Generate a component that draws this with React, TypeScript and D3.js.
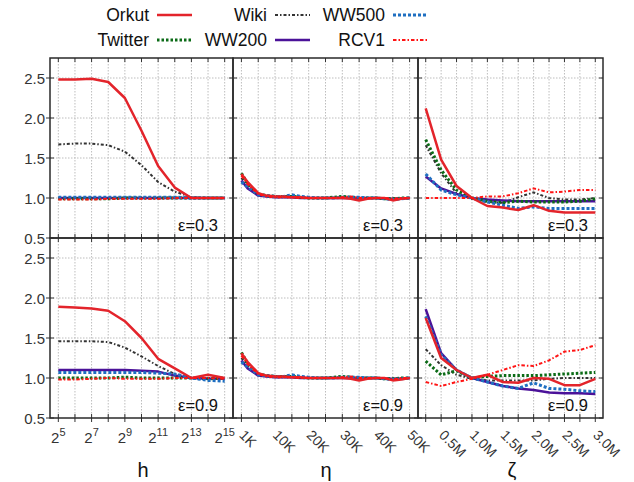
import React from "react";
import * as d3 from "d3";

// series names, drawn in this order (last on top)
const seriesNames = ["Wiki", "WW200", "Twitter", "WW500", "Orkut", "RCV1"];

// x values of each column
const hValues = [32, 64, 128, 256, 512, 1024, 2048, 4096, 8192, 16384, 32768];
const etaValues = [1000, 2500, 5000, 7500, 10000, 12500, 15000, 17500, 20000, 22500, 25000,
  27500, 30000, 32500, 35000, 37500, 40000, 42500, 45000, 47500, 50000];
const zetaValues = [250000, 500000, 750000, 1000000, 1250000, 1500000, 1750000, 2000000,
  2250000, 2500000, 2750000, 3000000];

// tick labels
const hTicks = [32, 64, 128, 256, 512, 1024, 2048, 4096, 8192, 16384, 32768];
const hLabelExps = [5, 7, 9, 11, 13, 15];
const etaTicks = [1000, 5000, 10000, 15000, 20000, 25000, 30000, 35000, 40000, 45000, 50000];
const etaLabels = ["1K", "10K", "20K", "30K", "40K", "50K"];
const zetaTicks = [250000, 500000, 750000, 1000000, 1250000, 1500000, 1750000, 2000000,
  2250000, 2500000, 2750000, 3000000];
const zetaLabels = ["0.5M", "1.0M", "1.5M", "2.0M", "2.5M", "3.0M"];
const yTicks = [0.5, 1.0, 1.5, 2.0, 2.5];

// h, eps = 0.3
const hOrkut03 = [2.48, 2.48, 2.49, 2.45, 2.25, 1.84, 1.40, 1.13, 1.00, 1.00, 1.00];
const hTwitter03 = [0.99, 0.99, 0.99, 0.99, 1.00, 1.00, 1.00, 1.00, 1.00, 1.00, 1.00];
const hWiki03 = [1.67, 1.68, 1.68, 1.66, 1.58, 1.41, 1.20, 1.08, 1.01, 1.00, 1.00];
const hWW200_03 = [1.00, 1.00, 1.00, 1.00, 1.00, 1.00, 1.00, 1.00, 1.00, 1.00, 1.00];
const hWW500_03 = [1.01, 1.01, 1.01, 1.01, 1.01, 1.01, 1.01, 1.01, 1.00, 1.00, 1.00];
const hRCV1_03 = [0.98, 0.98, 0.98, 0.99, 0.99, 0.99, 0.99, 1.00, 1.00, 1.00, 1.00];

// h, eps = 0.9
const hOrkut09 = [1.89, 1.88, 1.87, 1.84, 1.71, 1.50, 1.24, 1.12, 1.00, 1.04, 1.00];
const hTwitter09 = [1.00, 1.00, 1.00, 1.00, 1.01, 1.00, 1.00, 1.00, 1.00, 0.99, 1.00];
const hWiki09 = [1.46, 1.46, 1.46, 1.45, 1.38, 1.27, 1.15, 1.05, 1.00, 1.00, 1.00];
const hWW200_09 = [1.10, 1.10, 1.10, 1.10, 1.10, 1.09, 1.08, 1.03, 1.00, 0.99, 0.99];
const hWW500_09 = [1.07, 1.07, 1.07, 1.07, 1.07, 1.07, 1.06, 1.05, 1.00, 0.97, 0.96];
const hRCV1_09 = [0.98, 0.98, 0.99, 1.00, 0.99, 0.99, 0.99, 1.00, 1.00, 1.00, 0.99];

// eta, eps = 0.3
const etaOrkut03 = [1.30, 1.20, 1.06, 1.03, 1.02, 1.02, 1.01, 1.01, 1.00, 1.00, 1.00, 1.00, 1.00, 0.99, 0.97, 0.99, 1.00, 1.00, 0.97, 0.99, 1.00];
const etaTwitter03 = [1.31, 1.18, 1.05, 1.03, 1.02, 1.02, 1.02, 1.01, 1.00, 1.00, 1.00, 1.01, 1.02, 1.01, 1.00, 1.00, 1.00, 0.99, 0.99, 1.00, 1.00];
const etaWiki03 = [1.25, 1.15, 1.04, 1.02, 1.01, 1.01, 1.01, 1.00, 1.00, 1.00, 1.00, 1.00, 1.00, 1.00, 0.99, 1.00, 1.00, 1.00, 0.99, 1.00, 1.00];
const etaWW200_03 = [1.22, 1.12, 1.03, 1.02, 1.01, 1.01, 1.01, 1.00, 1.00, 1.00, 1.00, 1.00, 1.00, 1.00, 1.00, 1.00, 1.00, 0.99, 0.99, 0.99, 1.00];
const etaWW500_03 = [1.20, 1.14, 1.04, 1.03, 1.02, 1.02, 1.04, 1.02, 1.01, 1.00, 1.00, 1.00, 1.01, 1.01, 1.01, 1.00, 1.00, 0.99, 0.98, 0.99, 1.00];
const etaRCV1_03 = [1.28, 1.17, 1.05, 1.02, 1.01, 1.01, 1.01, 1.00, 1.00, 1.00, 1.00, 1.00, 1.01, 1.02, 1.00, 1.00, 1.00, 1.00, 0.99, 1.00, 1.00];

// eta, eps = 0.9
const etaOrkut09 = [1.31, 1.20, 1.06, 1.03, 1.02, 1.02, 1.01, 1.01, 1.00, 1.00, 1.00, 1.00, 1.00, 0.99, 0.97, 0.99, 1.00, 1.00, 0.97, 0.98, 1.00];
const etaTwitter09 = [1.32, 1.18, 1.05, 1.03, 1.02, 1.02, 1.02, 1.01, 1.00, 1.00, 1.00, 1.01, 1.02, 1.01, 1.00, 1.00, 1.00, 0.99, 0.99, 1.00, 1.00];
const etaWiki09 = [1.25, 1.15, 1.04, 1.02, 1.01, 1.01, 1.01, 1.00, 1.00, 1.00, 1.00, 1.00, 1.00, 1.00, 0.99, 1.00, 1.00, 1.00, 0.99, 1.00, 1.00];
const etaWW200_09 = [1.22, 1.12, 1.03, 1.02, 1.01, 1.01, 1.01, 1.00, 1.00, 1.00, 1.00, 1.00, 1.00, 1.00, 1.00, 1.00, 1.00, 0.99, 0.99, 0.99, 1.00];
const etaWW500_09 = [1.20, 1.14, 1.04, 1.03, 1.02, 1.02, 1.04, 1.02, 1.01, 1.00, 1.00, 1.00, 1.01, 1.01, 1.01, 1.00, 1.00, 0.99, 0.98, 0.99, 1.00];
const etaRCV1_09 = [1.28, 1.17, 1.05, 1.02, 1.01, 1.01, 1.01, 1.00, 1.00, 1.00, 1.00, 1.00, 1.01, 1.02, 1.00, 1.00, 1.00, 1.00, 0.98, 1.00, 1.00];

// zeta, eps = 0.3
const zetaOrkut03 = [2.12, 1.48, 1.15, 1.00, 0.90, 0.88, 0.85, 0.91, 0.84, 0.82, 0.82, 0.82];
const zetaTwitter03 = [1.73, 1.35, 1.10, 1.00, 0.96, 0.94, 0.96, 0.95, 0.95, 0.95, 0.96, 0.99];
const zetaWiki03 = [1.66, 1.31, 1.06, 0.99, 0.95, 0.94, 1.01, 1.07, 1.00, 0.98, 0.98, 1.00];
const zetaWW200_03 = [1.27, 1.12, 1.05, 1.00, 0.98, 0.97, 0.96, 0.96, 0.96, 0.96, 0.96, 0.96];
const zetaWW500_03 = [1.30, 1.10, 1.04, 1.00, 0.95, 0.91, 0.87, 0.89, 0.87, 0.87, 0.87, 0.87];
const zetaRCV1_03 = [1.00, 1.00, 1.00, 1.00, 1.02, 1.02, 1.06, 1.12, 1.07, 1.08, 1.10, 1.10];

// zeta, eps = 0.9
const zetaOrkut09 = [1.75, 1.25, 1.10, 1.00, 1.04, 0.95, 0.94, 1.00, 0.99, 0.91, 0.91, 0.99];
const zetaTwitter09 = [1.21, 1.04, 1.09, 1.00, 1.02, 1.03, 1.03, 1.03, 1.04, 1.05, 1.06, 1.07];
const zetaWiki09 = [1.36, 1.16, 1.04, 0.99, 0.97, 0.97, 0.97, 0.97, 0.99, 1.00, 1.00, 1.00];
const zetaWW200_09 = [1.86, 1.31, 1.10, 1.00, 0.95, 0.90, 0.87, 0.85, 0.82, 0.81, 0.81, 0.80];
const zetaWW500_09 = [1.77, 1.29, 1.10, 1.00, 0.95, 0.90, 0.87, 0.94, 0.87, 0.86, 0.84, 0.83];
const zetaRCV1_09 = [0.95, 0.90, 0.95, 0.99, 1.04, 1.10, 1.16, 1.15, 1.22, 1.33, 1.35, 1.41];

const styles = {
  Orkut: { color: "#e3242b", width: 2.5, dash: null },
  Twitter: { color: "#0b6b16", width: 3, dash: "2.5,2" },
  Wiki: { color: "#333333", width: 2, dash: "3,2,1.5,2" },
  WW200: { color: "#4b1299", width: 2.5, dash: null },
  WW500: { color: "#1f6fc1", width: 3, dash: "3,2" },
  RCV1: { color: "#ff1414", width: 2, dash: "3.5,2,1.5,2" },
};

const legendRows = [
  ["Orkut", "Wiki", "WW500"],
  ["Twitter", "WW200", "RCV1"],
];

const font = "'Liberation Sans', Arial, sans-serif";
const colEdges = [50, 233, 418, 603];
const rowEdges = [58, 238, 418];

function panelData(eps) {
  const top = eps === "0.3";
  return [
    {
      x: hValues,
      s: top
        ? { Orkut: hOrkut03, Twitter: hTwitter03, Wiki: hWiki03, WW200: hWW200_03, WW500: hWW500_03, RCV1: hRCV1_03 }
        : { Orkut: hOrkut09, Twitter: hTwitter09, Wiki: hWiki09, WW200: hWW200_09, WW500: hWW500_09, RCV1: hRCV1_09 },
    },
    {
      x: etaValues,
      s: top
        ? { Orkut: etaOrkut03, Twitter: etaTwitter03, Wiki: etaWiki03, WW200: etaWW200_03, WW500: etaWW500_03, RCV1: etaRCV1_03 }
        : { Orkut: etaOrkut09, Twitter: etaTwitter09, Wiki: etaWiki09, WW200: etaWW200_09, WW500: etaWW500_09, RCV1: etaRCV1_09 },
    },
    {
      x: zetaValues,
      s: top
        ? { Orkut: zetaOrkut03, Twitter: zetaTwitter03, Wiki: zetaWiki03, WW200: zetaWW200_03, WW500: zetaWW500_03, RCV1: zetaRCV1_03 }
        : { Orkut: zetaOrkut09, Twitter: zetaTwitter09, Wiki: zetaWiki09, WW200: zetaWW200_09, WW500: zetaWW500_09, RCV1: zetaRCV1_09 },
    },
  ];
}

// x scales, one per column, with half a tick step of padding at each side
function makeX(col) {
  const x0 = colEdges[col], x1 = colEdges[col + 1];
  if (col === 0) {
    const pad = (x1 - x0) / 11 / 2;
    return { scale: d3.scaleLog().base(2).domain([32, 32768]).range([x0 + pad, x1 - pad]), ticks: hTicks };
  }
  if (col === 1) {
    const step = (x1 - x0) / 11;
    const r = etaTicks.map((_, i) => x0 + step / 2 + i * step);
    // piecewise: 1K sits on the first grid line, then every 5K
    return { scale: d3.scaleLinear().domain([1000, 5000, 50000]).range([r[0], r[1], r[10]]), ticks: etaTicks };
  }
  const step = (x1 - x0) / 12;
  return {
    scale: d3.scaleLinear().domain([250000, 3000000]).range([x0 + step / 2, x1 - step / 2]),
    ticks: zetaTicks,
  };
}

export default function App() {
  const xs = [0, 1, 2].map(makeX);
  const rows = ["0.3", "0.9"];

  return (
    <svg width={634} height={482} style={{ position: "absolute", left: 0, top: 0, background: "#fff" }} fontFamily={font}>
      {/* legend */}
      {legendRows.map((row, ri) =>
        row.map((name, ci) => {
          const tx = [149, 267, 385][ci];
          const ty = [15, 40][ri];
          const st = styles[name];
          return (
            <g key={name}>
              <text x={tx} y={ty + 6} textAnchor="end" fontSize={17.5} fill="#111">{name}</text>
              <line x1={tx + 8} x2={tx + 43} y1={ty} y2={ty} stroke={st.color} strokeWidth={st.width}
                strokeDasharray={st.dash || undefined} />
            </g>
          );
        })
      )}

      {rows.map((eps, ri) => {
        const yTop = rowEdges[ri], yBot = rowEdges[ri + 1];
        const y = d3.scaleLinear().domain([0.5, 2.75]).range([yBot, yTop]);
        const panels = panelData(eps);
        return (
          <g key={eps}>
            {panels.map((p, ci) => {
              const { scale: x, ticks } = xs[ci];
              const xl = colEdges[ci], xr = colEdges[ci + 1];
              const line = d3.line<number>().x((_, i) => x(p.x[i])).y((d) => y(d));
              return (
                <g key={ci}>
                  {/* grid */}
                  {ticks.map((t) => (
                    <line key={"gx" + t} x1={x(t)} x2={x(t)} y1={yTop} y2={yBot} stroke="#bdbdbd"
                      strokeWidth={1} strokeDasharray="1.5,1.5" />
                  ))}
                  {yTicks.slice(1).map((t) => (
                    <line key={"gy" + t} x1={xl} x2={xr} y1={y(t)} y2={y(t)} stroke="#bdbdbd"
                      strokeWidth={1} strokeDasharray="1.5,1.5" />
                  ))}
                  {/* series */}
                  {seriesNames.map((name) => {
                    const st = styles[name];
                    return (
                      <path key={name} d={line(p.s[name])} fill="none" stroke={st.color} strokeWidth={st.width}
                        strokeDasharray={st.dash || undefined} strokeLinejoin="round" />
                    );
                  })}
                  {/* tick marks */}
                  {ticks.map((t) => (
                    <g key={"tx" + t}>
                      <line x1={x(t)} x2={x(t)} y1={yTop} y2={yTop + 4} stroke="#333" />
                      <line x1={x(t)} x2={x(t)} y1={yBot} y2={yBot - 4} stroke="#333" />
                      {ri === 1 && <line x1={x(t)} x2={x(t)} y1={yBot} y2={yBot + 4} stroke="#333" />}
                    </g>
                  ))}
                  {yTicks.map((t) => (
                    <g key={"ty" + t}>
                      <line x1={xl} x2={xl + 4} y1={y(t)} y2={y(t)} stroke="#333" />
                      <line x1={xr} x2={xr - 4} y1={y(t)} y2={y(t)} stroke="#333" />
                    </g>
                  ))}
                  <rect x={xl} y={yTop} width={xr - xl} height={yBot - yTop} fill="none" stroke="#2a2a2a" strokeWidth={1.5} />
                  <text x={xr - 15} y={yBot - 7} textAnchor="end" fontSize={16.5} fill="#111">{"\u03b5=" + eps}</text>
                </g>
              );
            })}
            {/* y tick labels */}
            {yTicks.map((t) => (
              <g key={"yl" + t}>
                <line x1={colEdges[0] - 4} x2={colEdges[0]} y1={y(t)} y2={y(t)} stroke="#333" />
                <text x={45} y={y(t) + 5.5} textAnchor="end" fontSize={15} fill="#333">{t.toFixed(1)}</text>
              </g>
            ))}
          </g>
        );
      })}

      {/* x tick labels */}
      {hLabelExps.map((e) => (
        <text key={"h" + e} x={xs[0].scale(Math.pow(2, e))} y={443} textAnchor="middle" fontSize={15} fill="#333">
          2<tspan dy={-7} fontSize={11}>{e}</tspan>
        </text>
      ))}
      {etaLabels.map((lab, i) => {
        const px = xs[1].scale(etaTicks[i * 2]) - 3;
        return (
          <text key={lab} x={px} y={436} fontSize={14} fill="#333" transform={`rotate(45 ${px} 436)`}>{lab}</text>
        );
      })}
      {zetaLabels.map((lab, i) => {
        const px = xs[2].scale(zetaTicks[i * 2 + 1]) - 3;
        return (
          <text key={lab} x={px} y={436} fontSize={14} fill="#333" transform={`rotate(45 ${px} 436)`}>{lab}</text>
        );
      })}

      {/* axis titles */}
      <text x={143} y={477} textAnchor="middle" fontSize={20} fill="#111">h</text>
      <text x={326} y={477} textAnchor="middle" fontSize={20} fill="#111">η</text>
      <text x={512} y={477} textAnchor="middle" fontSize={20} fill="#111">ζ</text>
    </svg>
  );
}
